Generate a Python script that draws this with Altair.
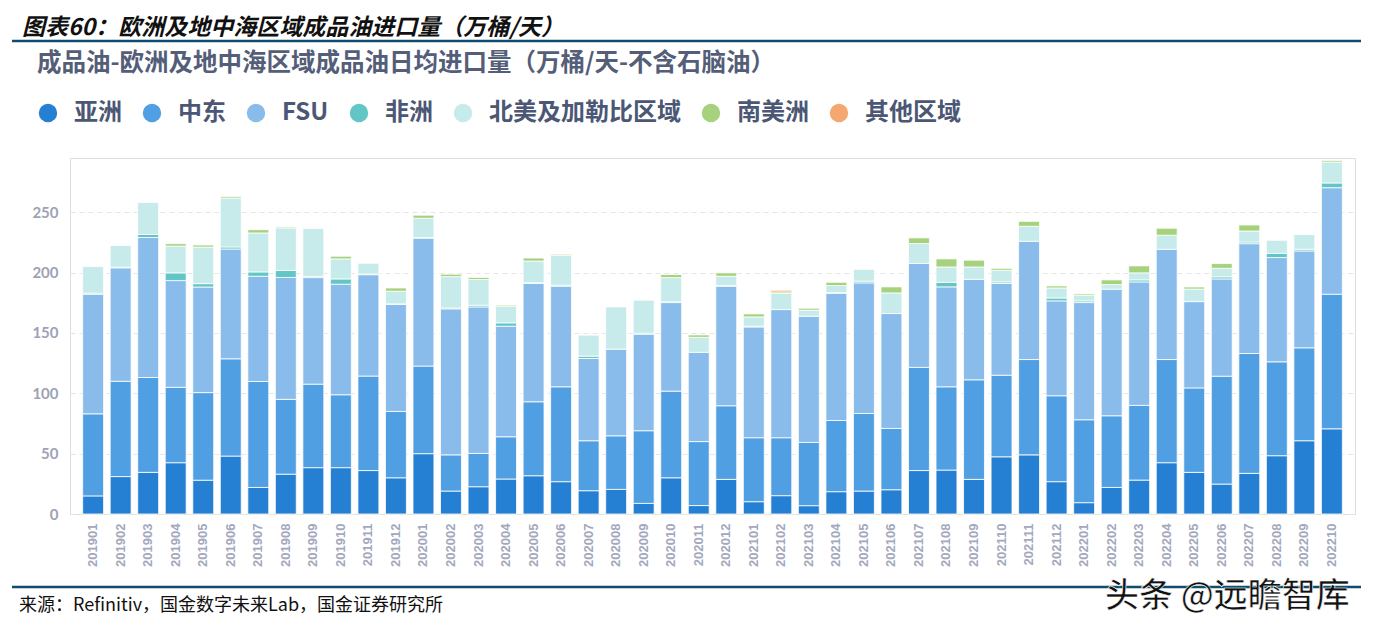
import altair as alt
import pandas as pd

months = [
    "201901", "201902", "201903", "201904", "201905", "201906", "201907", "201908", "201909", "201910", "201911", "201912",
    "202001", "202002", "202003", "202004", "202005", "202006", "202007", "202008", "202009", "202010", "202011", "202012",
    "202101", "202102", "202103", "202104", "202105", "202106", "202107", "202108", "202109", "202110", "202111", "202112",
    "202201", "202202", "202203", "202204", "202205", "202206", "202207", "202208", "202209", "202210",
]

regions = ["亚洲", "中东", "FSU", "非洲", "北美及加勒比区域", "南美洲", "其他区域"]
colors = ["#2580D3", "#509FE3", "#89BBEB", "#63C6C6", "#C7EAEA", "#A6D17D", "#F4A870"]

asia = [15, 31, 34.5, 42.5, 28, 48, 22, 33, 38.4, 38.4, 36, 30,
        50, 19, 22.6, 29, 31.7, 26.8, 19.3, 20.4, 8.8, 30, 7, 28.7,
        10.2, 15.2, 6.9, 18.5, 19, 20.1, 36, 36.4, 28.7, 47.4, 49, 26.8,
        9.4, 22, 28.1, 42.5, 34.5, 24.8, 33.7, 48.3, 60.7, 70.6]
middle_east = [68, 79, 78.6, 62.5, 72.6, 80.6, 87.8, 62, 69.2, 60.4, 78.3, 55,
               72.6, 30, 27.6, 35, 61.3, 78.6, 41.4, 44.4, 60.2, 71.8, 53, 61,
               53, 48, 52.4, 59, 64.3, 50.8, 85.5, 69, 82.5, 67.6, 79, 71.2,
               68.7, 59.4, 61.9, 85.5, 70, 89.4, 99.3, 77.8, 77, 111.5]
fsu = [99, 94, 116, 88.4, 87.5, 91, 87.2, 101, 88.3, 91.6, 84, 88.6,
       106, 121, 121.4, 91.6, 98, 83.3, 68.2, 71.8, 80, 73.4, 74, 99,
       91.8, 106.2, 104.6, 105.2, 108.2, 95.2, 86.1, 82.8, 83.3, 76, 98, 78.6,
       97.1, 104.9, 102.3, 91.4, 71.5, 80.6, 91, 86.4, 80.3, 88.3]
africa = [1, 0.5, 2.5, 6.4, 2.8, 1.7, 3.6, 5.8, 1, 4.4, 0.5, 0.5,
          0.5, 0.7, 1.4, 2.8, 0.6, 0.9, 1.9, 0, 0.8, 0.6, 0, 0.6,
          0.6, 0, 0, 0.8, 1.4, 0, 0, 3.8, 0, 1.3, 0, 2.4,
          1.4, 0, 1.7, 0, 0, 1.7, 1.4, 3.5, 1.4, 3.9]
north_america = [22, 18, 26.5, 22.2, 30.3, 40.5, 32.3, 35.3, 39.6, 16.6, 9, 10.5,
                 16, 26, 21.3, 13.6, 18, 24.6, 17.4, 35, 27.4, 20.1, 12.4, 7.7,
                 7.7, 13.3, 5, 5.8, 9.9, 17.1, 16.5, 12.7, 10.2, 9.7, 12.4, 8.3,
                 4.7, 3.8, 5.8, 11.6, 10.4, 7.1, 9.1, 10.8, 12.1, 17.4]
south_america = [0, 0, 0, 2, 1.7, 1.2, 2.7, 0.8, 0, 2.2, 0, 2.7,
                 2.5, 2, 1.7, 1, 2.5, 1, 0, 0, 0, 2.5, 2, 2.8,
                 2.5, 1.3, 1.6, 2.7, 0, 5, 4.7, 6.7, 5.6, 1.6, 4.1, 1.7,
                 1.1, 3.9, 5.8, 5.8, 1.7, 3.9, 5, 0, 0, 1.3]
other = [0] * 12 + [0] * 12 + [0, 1.4] + [0] * 10 + [0] * 10

y_ticks = [0, 50, 100, 150, 200, 250]

title_text = "图表60：欧洲及地中海区域成品油进口量（万桶/天）"
subtitle_text = "成品油-欧洲及地中海区域成品油日均进口量（万桶/天-不含石脑油）"
source_text = "来源：Refinitiv，国金数字未来Lab，国金证券研究所"
mark_text = "头条 @远瞻智库"

series = [asia, middle_east, fsu, africa, north_america, south_america, other]
rows = []
for k, (name, vals) in enumerate(zip(regions, series)):
    for m, v in zip(months, vals):
        rows.append({"month": m, "region": name, "k": k, "v": v})
df = pd.DataFrame(rows)

FONT = "Noto Sans CJK SC"

bars = alt.Chart(df).transform_filter("datum.v > 0").mark_bar(
    stroke="white", strokeWidth=0.8
).encode(
    x=alt.X("month:O", sort=months,
            scale=alt.Scale(paddingInner=0.24, paddingOuter=0.46),
            axis=alt.Axis(title=None, labelAngle=270, labelFontSize=13, labelFontWeight="bold",
                          labelFont="Liberation Sans", labelColor="#A3A8BC", labelPadding=9,
                          domain=False, ticks=False, grid=False)),
    y=alt.Y("sum(v):Q", stack="zero",
            scale=alt.Scale(domain=[0, 295], nice=False),
            axis=alt.Axis(title=None, values=y_ticks, labelFontSize=15, labelFontWeight="bold",
                          labelFont="Lato", labelColor="#9DA2B6", labelPadding=12,
                          domain=False, ticks=False, grid=True, gridColor="#E6E6E6",
                          gridDash=[5, 4], gridWidth=1)),
    color=alt.Color("region:N", sort=regions,
                    scale=alt.Scale(domain=regions, range=colors),
                    legend=alt.Legend(title=None, orient="none", direction="horizontal",
                                      legendX=-34, legendY=-57, symbolType="circle",
                                      symbolSize=340, symbolStrokeWidth=0, labelFontSize=24,
                                      labelFont=FONT, labelFontWeight="bold", labelColor="#4B5775",
                                      labelOffset=14, columnPadding=18, columns=7,
                                      labelLimit=400)),
    order=alt.Order("k:Q", sort="ascending"),
)

deco = pd.DataFrame({"a": [0]})

top_line = alt.Chart(deco).mark_rule(color="#0E4D6E", strokeWidth=2.5).encode(
    x=alt.value(-58), x2=alt.value(1291), y=alt.value(-117))
bottom_line = alt.Chart(deco).mark_rule(color="#0E4D6E", strokeWidth=2.5).encode(
    x=alt.value(-58), x2=alt.value(1291), y=alt.value(429))

title = alt.Chart(deco).mark_text(
    text=title_text, font=FONT, fontSize=23, fontWeight="bold", fontStyle="italic",
    color="#111111", align="left", baseline="middle").encode(
    x=alt.value(-48), y=alt.value(-130))
subtitle = alt.Chart(deco).mark_text(
    text=subtitle_text, font=FONT, fontSize=24.5, fontWeight="bold",
    color="#545E78", align="left", baseline="middle").encode(
    x=alt.value(-33), y=alt.value(-94))
source = alt.Chart(deco).mark_text(
    text=source_text, font=FONT, fontSize=18, color="#111111",
    align="left", baseline="middle").encode(
    x=alt.value(-51), y=alt.value(448))
watermark = alt.Chart(deco).mark_text(
    text=mark_text, font=FONT, fontSize=34, fontWeight=500, color="#111111",
    stroke="white", strokeWidth=0.6,
    align="left", baseline="middle").encode(
    x=alt.value(1035), y=alt.value(439))

chart = alt.layer(bars, top_line, bottom_line, title, subtitle, source, watermark).properties(
    width=1285, height=356,
    autosize=alt.AutoSizeParams(type="none"),
    padding={"left": 62, "top": 150, "right": 16, "bottom": 107},
).configure_view(stroke=None).configure(background="white")

chart.save("out.html", embed_options={"renderer": "svg", "actions": False})
